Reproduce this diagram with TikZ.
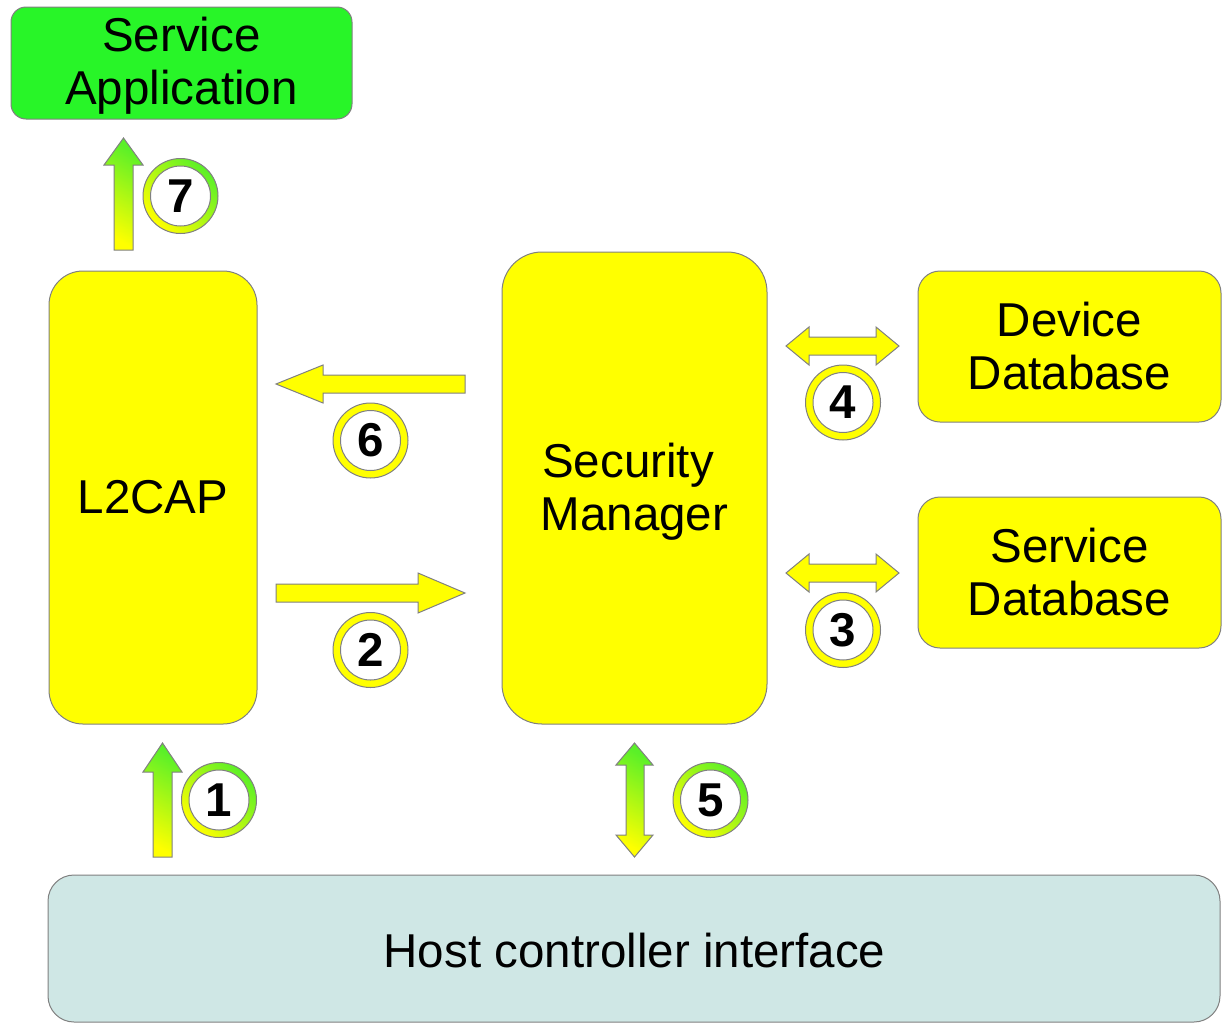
\documentclass[tikz,border=0pt]{standalone}
\usepackage{fontspec}
\setmainfont{Liberation Sans}
\newcommand\bxfont{\fontsize{47.5}{53}\selectfont}
\newcommand\nmfont{\fontsize{47.5}{53}\selectfont\bfseries}
\definecolor{edge}{RGB}{128,128,128}
\definecolor{ylw}{RGB}{255,255,0}
\definecolor{grn}{RGB}{40,245,40}
\definecolor{ggrn}{RGB}{90,240,40}
\definecolor{hci}{RGB}{207,231,229}
\tikzset{
  box/.style={draw=edge, line width=1pt, rectangle, inner sep=0pt, align=center, font=\bxfont},
  fatarrow/.style={draw=edge, line width=1pt, fill=ylw},
  gradarrow/.style={draw=edge, line width=1pt, top color=ggrn, bottom color=ylw, shading angle=-30},
  ring/.style={circle, draw=edge, line width=1pt, minimum size=75pt, inner sep=0pt, fill=ylw},
  gradring/.style={circle, draw=edge, line width=1pt, minimum size=75pt, inner sep=0pt, top color=ggrn, bottom color=ylw, shading angle=-45},
  numdisc/.style={circle, draw=edge, line width=1pt, fill=white, minimum size=60pt, inner sep=0pt, font=\nmfont}
}
\begin{document}
\begin{tikzpicture}[x=1pt,y=-1pt]
\useasboundingbox (0,0) rectangle (1225,1023);

% boxes
\node[box, fill=grn, minimum width=341pt, minimum height=112pt, rounded corners=15pt] (app) at (181.5,63) {};
\node[font=\bxfont, align=center, inner sep=0pt] (apptxt) at (181.5,66) {Service\\Application};
\node[box, fill=ylw, minimum width=208pt, minimum height=453pt, rounded corners=34pt] (l2cap) at (153,497.5) {L2CAP};
\node[box, fill=ylw, minimum width=265pt, minimum height=472pt, rounded corners=40pt] (sm) at (634.5,488) {};
\node[font=\bxfont, align=center, inner sep=0pt] (smtxt) at (634.5,492) {Security\rule{13pt}{0pt}\\Manager};
\node[box, fill=ylw, minimum width=303pt, minimum height=151pt, rounded corners=22pt] (ddb) at (1069.5,346.5) {Device\\Database};
\node[box, fill=ylw, minimum width=303pt, minimum height=151pt, rounded corners=22pt] (sdb) at (1069.5,572.5) {Service\\Database};
\node[box, fill=hci, minimum width=1172pt, minimum height=147pt, rounded corners=26pt] (hci) at (634,948.5) {};
\node[font=\bxfont, inner sep=0pt] (hcitxt) at (634.5,950.5) {Host controller interface};

% arrow 7 (up, gradient)
\shadedraw[gradarrow] (114,250) -- (114,165) -- (104,165) -- (123.5,138) -- (143,165) -- (133,165) -- (133,250) -- cycle;
% arrow 1 (up, gradient)
\shadedraw[gradarrow] (153,857) -- (153,772) -- (143,772) -- (162.5,743) -- (182,772) -- (172,772) -- (172,857) -- cycle;
% arrow 5 (up-down, gradient)
\shadedraw[gradarrow] (626,765) -- (616,765) -- (634.5,743) -- (653,765) -- (644,765) -- (644,835) -- (653,835) -- (634.5,857) -- (616,835) -- (626,835) -- cycle;
% arrow 6 (left)
\draw[fatarrow] (465,375) -- (323,375) -- (323,365) -- (276,384) -- (323,403) -- (323,393) -- (465,393) -- cycle;
% arrow 2 (right)
\draw[fatarrow] (276,584) -- (418,584) -- (418,573) -- (465,593) -- (418,613) -- (418,602) -- (276,602) -- cycle;
% arrow 4 (left-right)
\draw[fatarrow] (809,337) -- (876,337) -- (876,327) -- (899,346) -- (876,365) -- (876,355) -- (809,355) -- (809,365) -- (786,346) -- (809,327) -- cycle;
% arrow 3 (left-right)
\draw[fatarrow] (809,564) -- (876,564) -- (876,554) -- (899,573) -- (876,592) -- (876,582) -- (809,582) -- (809,592) -- (786,573) -- (809,554) -- cycle;

% numbered circles
\node[gradring] (c7) at (180.5,196) {};
\node[numdisc] (n7) at (c7) {7};
\node[gradring] (c1) at (219,800) {};
\node[numdisc] (n1) at (c1) {1};
\node[gradring] (c5) at (710.5,800) {};
\node[numdisc] (n5) at (c5) {5};
\node[ring] (c6) at (370.5,440.5) {};
\node[numdisc] (n6) at (c6) {6};
\node[ring] (c2) at (370.5,650) {};
\node[numdisc] (n2) at (c2) {2};
\node[ring] (c4) at (843,402.5) {};
\node[numdisc] (n4) at (c4) {4};
\node[ring] (c3) at (843,630) {};
\node[numdisc] (n3) at (c3) {3};
\end{tikzpicture}
\end{document}
